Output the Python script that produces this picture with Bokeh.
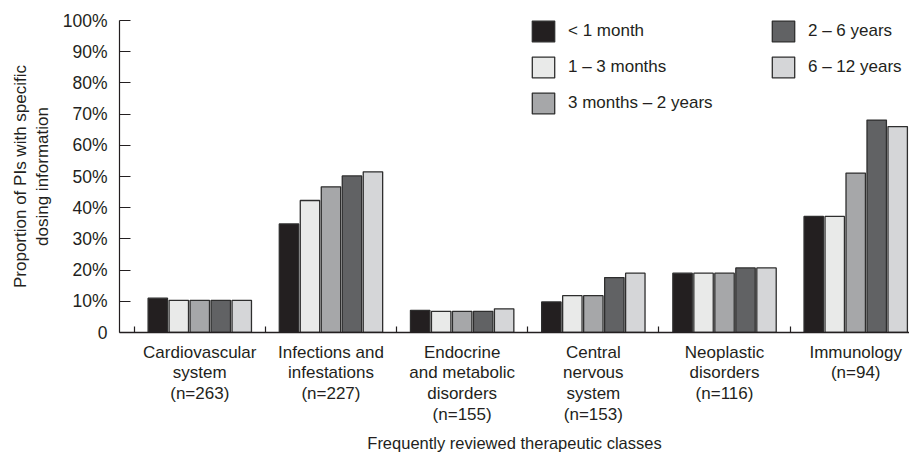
import numpy as np
from bokeh.plotting import figure
from bokeh.models import Range1d, FixedTicker, Legend, LegendItem
from bokeh.embed import file_html
from bokeh.resources import INLINE

categories = ["Cardiovascular\nsystem\n(n=263)",
              "Infections and\ninfestations\n(n=227)",
              "Endocrine\nand metabolic\ndisorders\n(n=155)",
              "Central\nnervous\nsystem\n(n=153)",
              "Neoplastic\ndisorders\n(n=116)",
              "Immunology\n(n=94)"]
series_names = ["< 1 month", "1 – 3 months", "3 months – 2 years", "2 – 6 years", "6 – 12 years"]
lt_1_month = [11.0, 34.8, 7.1, 9.8, 19.0, 37.2]
m1_3 = [10.3, 42.3, 6.8, 11.8, 19.0, 37.2]
m3_y2 = [10.3, 46.7, 6.8, 11.8, 19.0, 51.1]
y2_6 = [10.3, 50.2, 6.8, 17.6, 20.7, 68.1]
y6_12 = [10.3, 51.5, 7.6, 19.0, 20.7, 66.0]
series_values = [lt_1_month, m1_3, m3_y2, y2_6, y6_12]
y_ticks = [0, 10, 20, 30, 40, 50, 60, 70, 80, 90, 100]
y_tick_labels = ["0", "10%", "20%", "30%", "40%", "50%", "60%", "70%", "80%", "90%", "100%"]

colors = ["#231f20", "#e9eae9", "#a6a7a9", "#616264", "#d5d6d8"]
TXT = "#231f20"
FONT = "Liberation Sans"

p = figure(frame_width=790, frame_height=312, output_backend="svg", toolbar_location=None,
           x_range=Range1d(-0.612, 5.41), y_range=Range1d(0, 100),
           min_border_left=119, min_border_top=20, min_border_right=0, min_border_bottom=2)
p.outline_line_color = None
p.xgrid.visible = False
p.ygrid.visible = False
p.background_fill_color = "white"

n = len(categories)
centers = np.arange(n)
step = 0.16
renderers = []
for i, (name, vals) in enumerate(zip(series_names, series_values)):
    xs = centers + (i - 2) * step
    r = p.vbar(x=xs, top=vals, width=0.148, bottom=0, fill_color=colors[i],
               line_color="#2e2e2e", line_width=1.3)
    renderers.append(r)

# y axis
ya = p.yaxis[0]
ya.ticker = FixedTicker(ticks=y_ticks)
ya.major_label_overrides = {t: l for t, l in zip(y_ticks, y_tick_labels)}
ya.major_tick_in = 11
ya.major_tick_out = 0
ya.minor_tick_line_color = None
ya.axis_line_color = TXT
ya.axis_line_width = 1.2
ya.major_tick_line_color = TXT
ya.major_tick_line_width = 1.2
ya.major_label_standoff = 12
ya.major_label_text_font = FONT
ya.major_label_text_font_size = "17.5px"
ya.major_label_text_color = TXT
ya.axis_label = "Proportion of PIs with specific\ndosing information"
ya.axis_label_text_font = FONT
ya.axis_label_text_font_size = "17px"
ya.axis_label_text_font_style = "normal"
ya.axis_label_text_color = TXT
ya.axis_label_text_line_height = 1.15
ya.axis_label_standoff = 8

# x axis
xa = p.xaxis[0]
xa.ticker = FixedTicker(ticks=list(range(n)), minor_ticks=[k - 0.5 for k in range(n)])
xa.major_label_overrides = {k: c for k, c in enumerate(categories)}
xa.major_tick_in = 0
xa.major_tick_out = 0
xa.minor_tick_in = 6
xa.minor_tick_out = 0
xa.minor_tick_line_color = TXT
xa.minor_tick_line_width = 1.2
xa.axis_line_color = TXT
xa.axis_line_width = 1.4
xa.major_label_standoff = 10
xa.major_label_text_font = FONT
xa.major_label_text_font_size = "17px"
xa.major_label_text_color = TXT
xa.major_label_text_line_height = 1.1
xa.axis_label = "Frequently reviewed therapeutic classes"
xa.axis_label_text_font = FONT
xa.axis_label_text_font_size = "16.5px"
xa.axis_label_text_font_style = "normal"
xa.axis_label_text_color = TXT
xa.axis_label_standoff = 7

items = [LegendItem(label=nm, renderers=[r]) for nm, r in zip(series_names, renderers)]
legend = Legend(items=items, nrows=3, location=(410, 216), padding=0, margin=0,
                spacing=10, glyph_width=28, glyph_height=26, label_standoff=11,
                label_width=191,
                border_line_color=None, background_fill_alpha=0,
                label_text_font=FONT, label_text_font_size="17px", label_text_color=TXT)
p.add_layout(legend)

open("out.html", "w").write(file_html(p, INLINE))
